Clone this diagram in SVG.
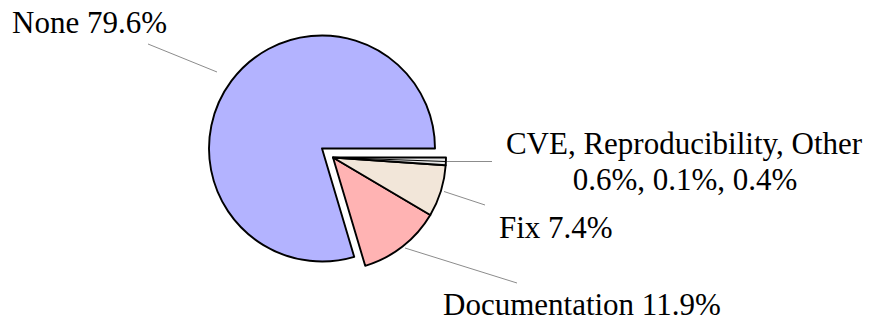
<svg xmlns="http://www.w3.org/2000/svg" width="874" height="325" viewBox="0 0 874 325">
  <style>
    .slice { stroke: #000; stroke-width: 1.9; stroke-linejoin: round; }
    .thin { stroke: none; }
    .lbl { font-family: "Liberation Serif", "Times New Roman", serif; font-size: 31px; fill: #000; }
    .lead { stroke: #8c8c8c; stroke-width: 1; fill: none; }
  </style>
  <rect width="874" height="325" fill="#fff"/>

  <!-- main slice, centre (322,148.5), r=113 -->
  <g id="none">
    <path class="slice" fill="#b3b3ff" d="M322,148.5 L435,148.5 A113,113 0 1,0 354.2,256.8 Z"/>
    <text class="lbl" x="12" y="33">None 79.6%</text>
  </g>

  <!-- exploded slices, centre (333,157.5), r=113 -->
  <g id="documentation">
    <path class="slice" fill="#ffb3b3" d="M333,157.5 L365.2,265.8 A113,113 0 0,0 430.3,215 Z"/>
    <text class="lbl" x="443" y="315">Documentation 11.9%</text>
  </g>
  <g id="fix">
    <path class="slice" fill="#f2e6d9" d="M333,157.5 L430.3,215 A113,113 0 0,0 445.7,165.3 Z"/>
    <text class="lbl" x="499" y="238">Fix 7.4%</text>
  </g>
  <!-- the three thin slices share one outline so the wedge stays readable -->
  <g id="cve">
    <path class="thin" fill="#e6e6e6" d="M333,157.5 L445.7,165.3 A113,113 0 0,0 445.9,161.05 Z"/>
  </g>
  <g id="reproducibility">
    <path class="thin" fill="#e6e6e6" d="M333,157.5 L445.9,161.05 A113,113 0 0,0 445.96,160.34 Z"/>
  </g>
  <g id="other">
    <path class="thin" fill="#e6e6e6" d="M333,157.5 L445.96,160.34 A113,113 0 0,0 446,157.5 Z"/>
  </g>
  <path class="slice" fill="none" d="M333,157.5 L445.7,165.3 A113,113 0 0,0 446,157.5 Z"/>
  <line x1="333" y1="157.5" x2="445.9" y2="161.5" stroke="#000" stroke-width="1.2"/>
  <g id="small-labels">
    <text class="lbl" x="684" y="154" text-anchor="middle">CVE, Reproducibility, Other</text>
    <text class="lbl" x="685" y="190" text-anchor="middle">0.6%, 0.1%, 0.4%</text>
  </g>

  <!-- leader lines from slices to their labels -->
  <g id="connectors">
    <line class="lead" x1="217" y1="72" x2="148" y2="44"/>
    <line class="lead" x1="447" y1="161.5" x2="492" y2="161.5"/>
    <line class="lead" x1="444" y1="191.5" x2="485" y2="205"/>
    <line class="lead" x1="405" y1="248" x2="517" y2="283"/>
  </g>
</svg>
